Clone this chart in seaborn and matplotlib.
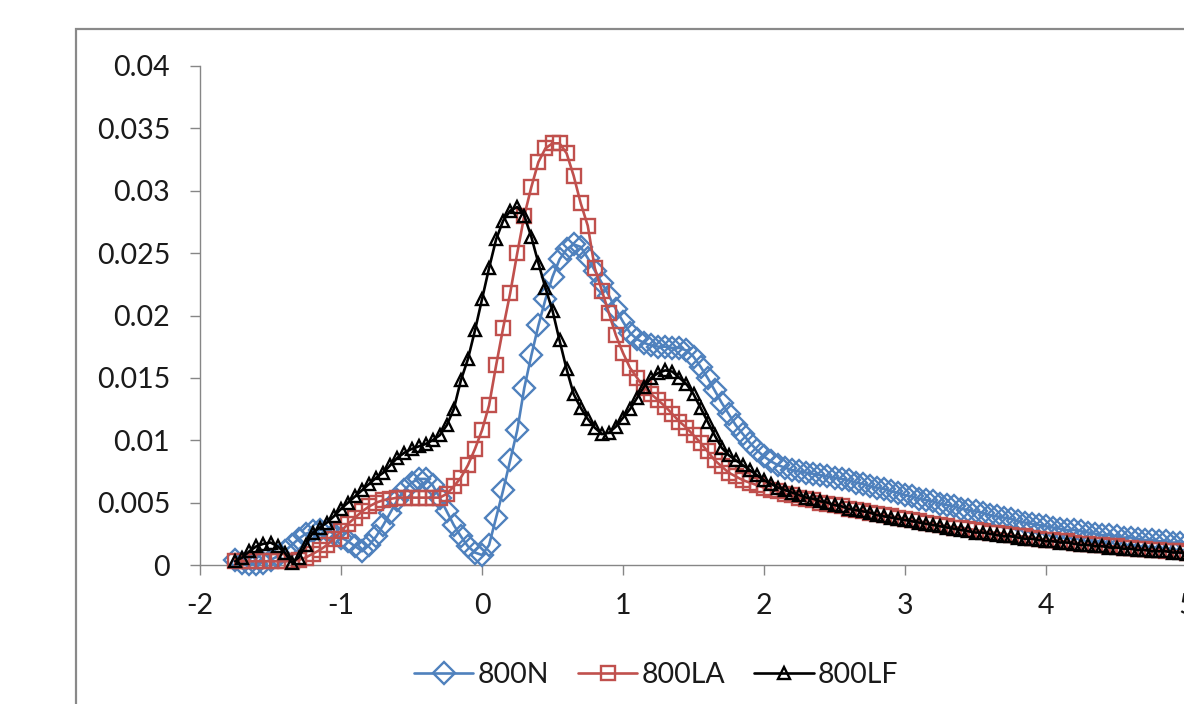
import numpy as np
import pandas as pd
import matplotlib
matplotlib.use("Agg")
import matplotlib.pyplot as plt
import seaborn as sns
from matplotlib.patches import Rectangle

# x grid of the measured series (-1.75 ... 5.0, step 0.05)
x_values = np.round(np.arange(-1.75, 5.0001, 0.05), 2)

n800 = [
    0.0004, 0.0002, 0.0001, 0.0001, 0.0002, 0.0004, 0.0007, 0.0011, 0.0016, 0.0021,
    0.0025, 0.0027, 0.0028, 0.0028, 0.0025, 0.0022, 0.0019, 0.0015, 0.0011, 0.0016,
    0.0023, 0.0032, 0.0042, 0.0052, 0.0060, 0.0066, 0.0069, 0.0069, 0.0064, 0.0054,
    0.0043, 0.0032, 0.0023, 0.0015, 0.0010, 0.0008, 0.0016, 0.0038, 0.0060, 0.0084,
    0.0108, 0.0142, 0.0168, 0.0192, 0.0213, 0.0231, 0.0245, 0.0253, 0.0257, 0.0255,
    0.0246, 0.0236, 0.0226, 0.0216, 0.0205, 0.0195, 0.0186, 0.0181, 0.0178, 0.0176,
    0.0175, 0.0175, 0.0174, 0.0174, 0.0172, 0.0167, 0.0159, 0.0150, 0.0140, 0.0130,
    0.0121, 0.0112, 0.0105, 0.0098, 0.0092, 0.0087, 0.0083, 0.0080, 0.0078, 0.0076,
    0.0075, 0.0074, 0.0073, 0.0072, 0.0071, 0.0070, 0.0069, 0.0068, 0.0066, 0.0065,
    0.0063, 0.0062, 0.0061, 0.0059, 0.0058, 0.0056, 0.0055, 0.0053, 0.0052, 0.0051,
    0.0049, 0.0048, 0.0047, 0.0045, 0.0044, 0.0043, 0.0042, 0.0040, 0.0039, 0.0038,
    0.0037, 0.0035, 0.0034, 0.0033, 0.0032, 0.0031, 0.0030, 0.0029, 0.0028, 0.0028,
    0.0027, 0.0026, 0.0025, 0.0024, 0.0024, 0.0023, 0.0022, 0.0022, 0.0021, 0.0020,
    0.0020, 0.0019, 0.0019, 0.0018, 0.0018, 0.0017,
]

la800 = [
    0.0003, 0.0003, 0.0003, 0.0003, 0.0003, 0.0003, 0.0003, 0.0003, 0.0003, 0.0004,
    0.0006, 0.0009, 0.0012, 0.0016, 0.0021, 0.0027, 0.0033, 0.0038, 0.0043, 0.0047,
    0.0050, 0.0052, 0.0053, 0.0054, 0.0054, 0.0054, 0.0054, 0.0054, 0.0054, 0.0054,
    0.0057, 0.0063, 0.0070, 0.0080, 0.0093, 0.0108, 0.0128, 0.0160, 0.0190, 0.0218,
    0.0250, 0.0280, 0.0303, 0.0323, 0.0334, 0.0338, 0.0338, 0.0330, 0.0312, 0.0290,
    0.0272, 0.0238, 0.0220, 0.0202, 0.0184, 0.0170, 0.0158, 0.0150, 0.0142, 0.0137,
    0.0132, 0.0127, 0.0121, 0.0115, 0.0110, 0.0104, 0.0098, 0.0091, 0.0084, 0.0079,
    0.0074, 0.0071, 0.0068, 0.0066, 0.0064, 0.0062, 0.0060, 0.0059, 0.0057, 0.0056,
    0.0054, 0.0053, 0.0052, 0.0050, 0.0049, 0.0048, 0.0047, 0.0045, 0.0044, 0.0043,
    0.0042, 0.0041, 0.0040, 0.0039, 0.0038, 0.0037, 0.0036, 0.0035, 0.0034, 0.0033,
    0.0032, 0.0031, 0.0030, 0.0030, 0.0029, 0.0028, 0.0027, 0.0026, 0.0026, 0.0025,
    0.0024, 0.0023, 0.0023, 0.0022, 0.0021, 0.0020, 0.0020, 0.0019, 0.0019, 0.0018,
    0.0017, 0.0017, 0.0016, 0.0016, 0.0015, 0.0015, 0.0014, 0.0014, 0.0013, 0.0013,
    0.0012, 0.0012, 0.0011, 0.0011, 0.0011, 0.0010,
]

lf800 = [
    0.0003, 0.0006, 0.0011, 0.0015, 0.0017, 0.0018, 0.0015, 0.0010, 0.0002, 0.0006,
    0.0016, 0.0026, 0.0030, 0.0034, 0.0039, 0.0045, 0.0050, 0.0055, 0.0060, 0.0065,
    0.0070, 0.0074, 0.0080, 0.0086, 0.0090, 0.0093, 0.0095, 0.0097, 0.0100, 0.0104,
    0.0112, 0.0125, 0.0148, 0.0165, 0.0188, 0.0213, 0.0238, 0.0261, 0.0276, 0.0284,
    0.0287, 0.0280, 0.0263, 0.0242, 0.0222, 0.0204, 0.0180, 0.0157, 0.0137, 0.0126,
    0.0117, 0.0110, 0.0105, 0.0106, 0.0111, 0.0118, 0.0125, 0.0134, 0.0143, 0.0150,
    0.0154, 0.0156, 0.0155, 0.0150, 0.0145, 0.0137, 0.0126, 0.0115, 0.0104, 0.0094,
    0.0088, 0.0084, 0.0080, 0.0076, 0.0072, 0.0068, 0.0065, 0.0062, 0.0060, 0.0058,
    0.0056, 0.0054, 0.0053, 0.0051, 0.0050, 0.0048, 0.0047, 0.0045, 0.0044, 0.0043,
    0.0042, 0.0040, 0.0039, 0.0038, 0.0037, 0.0036, 0.0035, 0.0034, 0.0033, 0.0032,
    0.0031, 0.0030, 0.0029, 0.0028, 0.0027, 0.0026, 0.0026, 0.0025, 0.0024, 0.0023,
    0.0023, 0.0022, 0.0021, 0.0021, 0.0020, 0.0019, 0.0019, 0.0018, 0.0018, 0.0017,
    0.0016, 0.0016, 0.0015, 0.0015, 0.0014, 0.0014, 0.0013, 0.0013, 0.0012, 0.0012,
    0.0011, 0.0011, 0.0011, 0.0010, 0.0010, 0.0009,
]

series_names = ["800N", "800LA", "800LF"]
x_ticks = [-2, -1, 0, 1, 2, 3, 4, 5]
x_tick_labels = ["-2", "-1", "0", "1", "2", "3", "4", "5"]
y_ticks = [0, 0.005, 0.01, 0.015, 0.02, 0.025, 0.03, 0.035, 0.04]
y_tick_labels = ["0", "0.005", "0.01", "0.015", "0.02", "0.025", "0.03", "0.035", "0.04"]

df = pd.DataFrame({"x": x_values, "800N": n800, "800LA": la800, "800LF": lf800})
long_df = df.melt(id_vars="x", var_name="series", value_name="y")

sns.set_theme(style="white")
plt.rcParams["font.family"] = ["Lato", "DejaVu Sans"]

W, H = 1184, 704
fig = plt.figure(figsize=(W / 100, H / 100), dpi=100)
fig.patch.set_facecolor("white")

# chart-area frame (extends beyond the right / bottom edges)
fig.add_artist(Rectangle((76 / W, -0.5), 2.0, 0.5 + (1 - 29 / H),
                         transform=fig.transFigure, fill=False,
                         edgecolor="#898989", linewidth=1.6))

ax = fig.add_axes([200 / W, (H - 565) / H, 987 / W, 499 / H])
ax.set_facecolor("none")

styles = {
    "800N": dict(color="#4F81BD", marker="D", markersize=11),
    "800LA": dict(color="#C0504D", marker="s", markersize=9.5),
    "800LF": dict(color="#000000", marker="^", markersize=9),
}

for name in series_names:
    st = styles[name]
    sub = long_df[long_df["series"] == name]
    sns.lineplot(data=sub, x="x", y="y", ax=ax, color=st["color"],
                 marker=st["marker"], markersize=st["markersize"],
                 markerfacecolor="none", markeredgecolor=st["color"],
                 markeredgewidth=1.7, linewidth=1.9, label=name,
                 estimator=None, sort=False, clip_on=False, zorder=3)

ax.set_xlim(-2, 5)
ax.set_ylim(0, 0.04)
ax.set_xticks(x_ticks)
ax.set_xticklabels(x_tick_labels)
ax.set_yticks(y_ticks)
ax.set_yticklabels(y_tick_labels)
ax.set_xlabel("")
ax.set_ylabel("")

for side in ["top", "right"]:
    ax.spines[side].set_visible(False)
for side in ["left", "bottom"]:
    ax.spines[side].set_color("#868686")
    ax.spines[side].set_linewidth(1.0)

ax.tick_params(axis="both", which="major", direction="out", length=7.5,
               width=1.0, color="#868686", labelsize=20.5, labelcolor="#1a1a1a",
               left=True, bottom=True)
ax.tick_params(axis="y", pad=14)
ax.tick_params(axis="x", pad=13)

handles, labels = ax.get_legend_handles_labels()
ax.get_legend().remove()
fig.legend(handles, labels, loc="center", bbox_to_anchor=(656 / W, 1 - 675 / H),
           ncol=3, frameon=False, handlelength=2.1, handletextpad=0.15,
           columnspacing=1.0, fontsize=20.5, labelcolor="#1a1a1a")

fig.savefig("out.png", dpi=100, facecolor="white")
